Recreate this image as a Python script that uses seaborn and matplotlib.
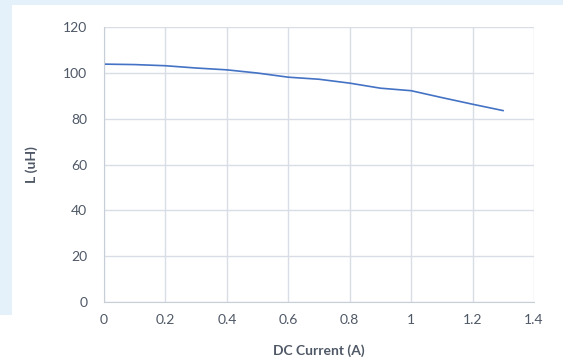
import pandas as pd
import matplotlib.pyplot as plt
import seaborn as sns
from matplotlib.patches import Rectangle

# inductance vs DC bias current
current_a = [0, 0.1, 0.2, 0.3, 0.4, 0.5, 0.6, 0.7, 0.8, 0.9, 1.0, 1.1, 1.2, 1.3]
inductance_uh = [103.8, 103.6, 103.1, 102.1, 101.3, 99.9, 98.1, 97.2, 95.5, 93.3, 92.2, 89.2, 86.3, 83.5]
x_ticks = [0, 0.2, 0.4, 0.6, 0.8, 1, 1.2, 1.4]
x_tick_labels = ['0', '0.2', '0.4', '0.6', '0.8', '1', '1.2', '1.4']
y_ticks = [0, 20, 40, 60, 80, 100, 120]

df = pd.DataFrame({'current': current_a, 'L': inductance_uh})

sns.set_style('white')
plt.rcParams['font.family'] = ['Lato', 'DejaVu Sans']

fig = plt.figure(figsize=(5.63, 3.63), dpi=100, facecolor='#e4f1fa')
# white chart area with a light blue frame on top and left
fig.patches.append(Rectangle((12 / 563, 0), 1, 1 - 5 / 363, transform=fig.transFigure,
                             facecolor='white', edgecolor='none', zorder=-1))
fig.patches.append(Rectangle((0, 0), 12 / 563, 48 / 363, transform=fig.transFigure,
                             facecolor='white', edgecolor='none', zorder=-1))

ax = fig.add_axes([104 / 563, 61 / 363, 430 / 563, 275 / 363])
sns.lineplot(data=df, x='current', y='L', ax=ax, color='#4472c4', linewidth=1.2)

ax.set_xlim(0, 1.4)
ax.set_ylim(0, 120)
ax.set_xticks(x_ticks)
ax.set_xticklabels(x_tick_labels)
ax.set_yticks(y_ticks)
ax.grid(True, color='#d9dee6', linewidth=1)
for side in ['top', 'right']:
    ax.spines[side].set_visible(False)
for side in ['left', 'bottom']:
    ax.spines[side].set_color('#c8ced6')
ax.tick_params(axis='both', length=0, labelsize=10, colors='#4f5866')
ax.tick_params(axis='x', pad=9)
ax.tick_params(axis='y', pad=12)
ax.set_xlabel('DC Current (A)', fontsize=10, fontweight='bold', color='#4f5866', labelpad=13)
ax.set_ylabel('L (uH)', fontsize=10, fontweight='bold', color='#4f5866', labelpad=18)

fig.savefig('out.png', dpi=100, facecolor=fig.get_facecolor())
